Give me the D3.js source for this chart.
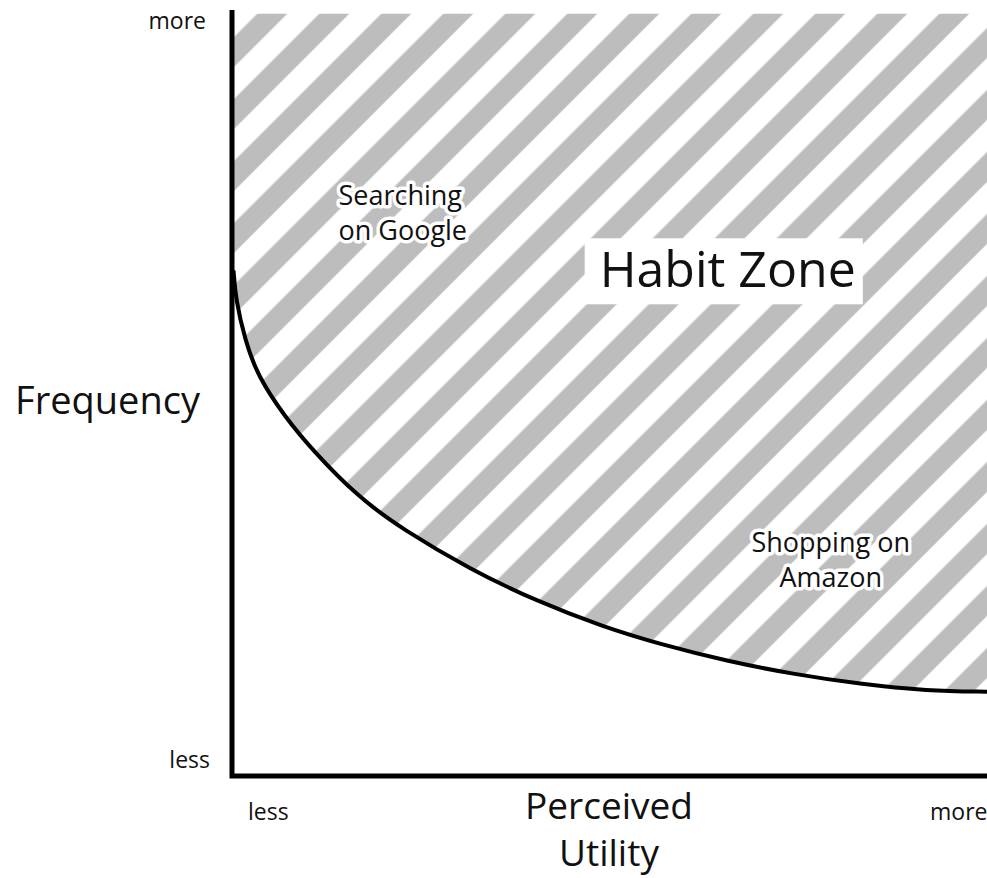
<!DOCTYPE html>
<html>
<head>
<meta charset="utf-8">
<script src="https://d3js.org/d3.v7.min.js"></script>
<style>
  body { margin: 0; background: #fff; }
  text { font-family: "Open Sans", "Liberation Sans", sans-serif; fill: #111; }
</style>
</head>
<body>
<div id="chart"></div>
<script>
// Habit zone curve (utility vs frequency, 0-100 scale)
var utility   = [0.2, 0.5, 1.7, 3.4, 7, 10.6, 16.7, 22.6, 31.5, 40.4, 49.1, 56.7, 65.6, 74.3, 83.2, 92.1, 100];
var frequency = [66, 62.2, 57, 52.2, 46.9, 42.6, 36.4, 32.2, 27, 22.8, 19.5, 17.2, 15, 13.3, 12, 11.1, 11];

var zoneLabels = ["Habit Zone"];
var exampleLabels = [["Searching", "on Google"], ["Shopping on", "Amazon"]];
var axisEnds = ["less", "more"];

var svgWidth = 987;
var svgHeight = 878;
var margin = { top: 10, right: 0, bottom: 102, left: 232 };
var width = svgWidth - margin.left - margin.right;
var height = svgHeight - margin.top - margin.bottom;

var svg = d3.select("#chart")
  .append("svg")
  .attr("width", svgWidth)
  .attr("height", svgHeight);

// diagonal stripes
var defs = svg.append("defs");
var pat = defs.append("pattern")
  .attr("id", "stripes")
  .attr("patternUnits", "userSpaceOnUse")
  .attr("width", 43.84)
  .attr("height", 43.84)
  .attr("patternTransform", "rotate(45)");
pat.append("rect")
  .attr("x", 20.5)
  .attr("y", 0)
  .attr("width", 21.2)
  .attr("height", 43.84)
  .attr("fill", "#bdbdbd");

var chartGroup = svg.append("g")
  .attr("transform", `translate(${margin.left}, ${margin.top})`);

var x = d3.scaleLinear().domain([0, 100]).range([0, width]);
var y = d3.scaleLinear().domain([0, 100]).range([height, 0]);

var data = utility.map((u, i) => ({ u: u, f: frequency[i] }));

// shaded zone above the curve
var area = d3.area()
  .x(d => x(d.u))
  .y0(d => y(d.f))
  .y1(y(99.5))
  .curve(d3.curveBasis);

chartGroup.append("path")
  .datum(data)
  .attr("d", area)
  .attr("fill", "url(#stripes)");

// curve
var line = d3.line()
  .x(d => x(d.u))
  .y(d => y(d.f))
  .curve(d3.curveBasis);

chartGroup.append("path")
  .datum(data)
  .attr("d", line)
  .attr("fill", "none")
  .attr("stroke", "#000")
  .attr("stroke-width", 4);

// axes (plain lines, no ticks)
chartGroup.append("path")
  .attr("d", `M${x(0)},${y(100)}V${y(0)}H${x(100) + 5}`)
  .attr("fill", "none")
  .attr("stroke", "#000")
  .attr("stroke-width", 5);

// zone label with white box
var hz = chartGroup.append("g");
var hzText = hz.append("text")
  .attr("x", x(48.7))
  .attr("y", y(63.8))
  .attr("font-size", 50)
  .text(zoneLabels[0]);
var bb = hzText.node().getBBox();
hz.insert("rect", "text")
  .attr("x", bb.x - 15)
  .attr("y", bb.y + 4)
  .attr("width", bb.width + 22)
  .attr("height", bb.height - 2)
  .attr("fill", "#fff");

// example labels with white halo
function halo(lines, px, py, anchor) {
  lines.forEach(function(s, i) {
    chartGroup.append("text")
      .attr("x", px)
      .attr("y", py + i * 35)
      .attr("font-size", 27)
      .attr("text-anchor", anchor)
      .attr("stroke", "#fff")
      .attr("stroke-width", 7)
      .attr("stroke-linejoin", "round")
      .attr("paint-order", "stroke")
      .text(s);
  });
}
halo(exampleLabels[0], x(14.1), y(74.5), "start");
halo(exampleLabels[1], x(79.3), y(29.2), "middle");

// axis titles
svg.append("text")
  .attr("x", 200)
  .attr("y", 414)
  .attr("text-anchor", "end")
  .attr("font-size", 38)
  .text("Frequency");

svg.append("text").attr("x", 609).attr("y", 819)
  .attr("text-anchor", "middle").attr("font-size", 37).text("Perceived");
svg.append("text").attr("x", 609).attr("y", 866)
  .attr("text-anchor", "middle").attr("font-size", 37).text("Utility");

// less / more ends
svg.append("text").attr("x", 206).attr("y", 29).attr("text-anchor", "end")
  .attr("font-size", 23).text(axisEnds[1]);
svg.append("text").attr("x", 210).attr("y", 768).attr("text-anchor", "end")
  .attr("font-size", 23).text(axisEnds[0]);
svg.append("text").attr("x", 248).attr("y", 820)
  .attr("font-size", 23).text(axisEnds[0]);
svg.append("text").attr("x", 930).attr("y", 820)
  .attr("font-size", 23).text(axisEnds[1]);
</script>
</body>
</html>
